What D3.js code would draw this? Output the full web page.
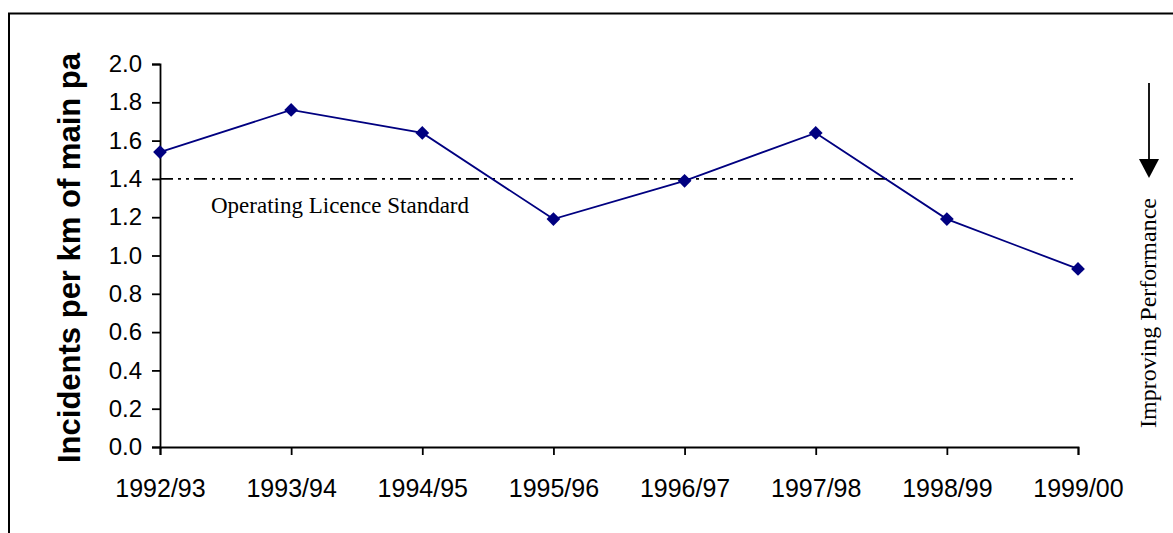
<!DOCTYPE html>
<html>
<head>
<meta charset="utf-8">
<script src="https://cdn.jsdelivr.net/npm/d3@7"></script>
<style>
  html, body { margin: 0; padding: 0; background: #fff; }
  svg { display: block; }
</style>
</head>
<body>
<svg id="chart" width="1173" height="533"></svg>
<script>
// Incidents per km of main pa, by financial year
const years = ["1992/93", "1993/94", "1994/95", "1995/96", "1996/97", "1997/98", "1998/99", "1999/00"];
const incidents = [1.54, 1.76, 1.64, 1.19, 1.39, 1.64, 1.19, 0.93];
const licenceStandard = 1.4;
const yTicks = [0, 0.2, 0.4, 0.6, 0.8, 1.0, 1.2, 1.4, 1.6, 1.8, 2.0];

const svg = d3.select("#chart");

// outer chart frame (runs off the right and bottom edges)
svg.append("rect")
  .attr("x", 9).attr("y", 13.5)
  .attr("width", 1200).attr("height", 600)
  .attr("fill", "none")
  .attr("stroke", "#000").attr("stroke-width", 2);

const x = d3.scalePoint().domain(years).range([160, 1078]);
const y = d3.scaleLinear().domain([0, 2]).range([447, 64]);

// y axis
const yAxis = svg.append("g")
  .attr("transform", `translate(${x.range()[0]},0)`)
  .call(d3.axisLeft(y).tickValues(yTicks).tickFormat(d3.format(".1f")).tickSize(8).tickPadding(10));
yAxis.selectAll("text")
  .attr("font-family", "Liberation Sans, Arial, sans-serif")
  .attr("font-size", 24).attr("fill", "#000");

// x axis
const xAxis = svg.append("g")
  .attr("transform", `translate(0,${y(0)})`)
  .call(d3.axisBottom(x).tickSize(8).tickPadding(24));
xAxis.selectAll("text")
  .attr("font-family", "Liberation Sans, Arial, sans-serif")
  .attr("font-size", 25).attr("fill", "#000");

[yAxis, xAxis].forEach(g => {
  g.select(".domain").attr("stroke", "#000").attr("stroke-width", 1.8);
  g.selectAll(".tick line").attr("stroke", "#000").attr("stroke-width", 1.8);
});

// licence standard reference line
svg.append("line")
  .attr("x1", x(years[0])).attr("x2", x(years[years.length - 1]) - 5)
  .attr("y1", y(licenceStandard)).attr("y2", y(licenceStandard))
  .attr("stroke", "#000").attr("stroke-width", 1.8)
  .attr("stroke-dasharray", "13,5,3,5,3,5");

svg.append("text")
  .attr("x", 211).attr("y", y(licenceStandard) + 34)
  .attr("font-family", "Liberation Serif, Times New Roman, serif")
  .attr("font-size", 23).attr("fill", "#000")
  .text("Operating Licence Standard");

// incidents series
const pts = years.map((yr, i) => [x(yr), y(incidents[i])]);
svg.append("path")
  .attr("d", d3.line()(pts))
  .attr("fill", "none").attr("stroke", "#000080").attr("stroke-width", 1.8);

svg.append("g").selectAll("path")
  .data(pts)
  .join("path")
  .attr("transform", d => `translate(${d[0]},${d[1]}) rotate(45)`)
  .attr("d", d3.symbol(d3.symbolSquare, 95))
  .attr("fill", "#000080");

// y-axis title
svg.append("text")
  .attr("transform", "translate(80,463) rotate(-90)")
  .attr("font-family", "Liberation Sans, Arial, sans-serif")
  .attr("font-weight", "bold").attr("font-size", 31).attr("fill", "#000")
  .text("Incidents per km of main pa");

// direction-of-improvement arrow
const arrowX = 1149;
svg.append("line")
  .attr("x1", arrowX).attr("x2", arrowX)
  .attr("y1", 83).attr("y2", 162)
  .attr("stroke", "#000").attr("stroke-width", 1.8);
svg.append("path")
  .attr("d", `M${arrowX - 10},159 L${arrowX + 10},159 L${arrowX},178 Z`)
  .attr("fill", "#000");

svg.append("text")
  .attr("transform", `translate(${arrowX + 7},313) rotate(-90)`)
  .attr("text-anchor", "middle")
  .attr("font-family", "Liberation Serif, Times New Roman, serif")
  .attr("font-size", 24).attr("fill", "#000")
  .text("Improving Performance");
</script>
</body>
</html>
